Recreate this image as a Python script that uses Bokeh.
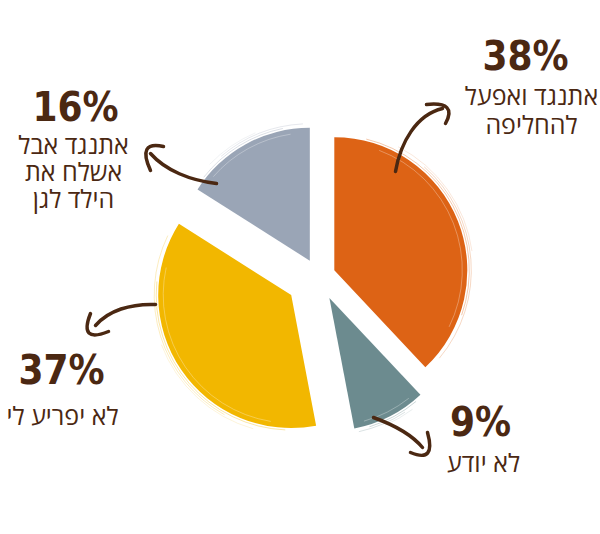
import numpy as np
from bokeh.plotting import figure
from bokeh.models import Range1d
from bokeh.core.properties import value
from bokeh.embed import file_html
from bokeh.resources import INLINE

# ---- data ----
categories = ["אתנגד ואפעל להחליפה", "לא יודע", "לא יפריע לי", "אתנגד אבל אשלח את הילד לגן"]
label_lines = [["אתנגד ואפעל", "להחליפה"], ["לא יודע"], ["לא יפריע לי"], ["אתנגד אבל", "אשלח את", "הילד לגן"]]
percents = [38, 9, 37, 16]

# ---- style / layout ----
colors = ["#DD6315", "#6C8B8F", "#F2B700", "#9AA5B6"]
BROWN = "#4B2812"
W, H = 600, 534
CX, CY = 318, 276          # pie centre (screen px)
R = 133
explode = [17, 24, 33, 18]

def Y(y):  # screen y -> data y
    return H - y

p = figure(width=W, height=H, output_backend="svg", toolbar_location=None,
           x_range=Range1d(0, W), y_range=Range1d(0, H), min_border=0)
p.axis.visible = False
p.grid.visible = False
p.outline_line_color = None
p.background_fill_color = "white"
p.border_fill_color = "white"

rad = np.radians
total = float(sum(percents))
start = 0.0
for pct, col, ex in zip(percents, colors, explode):
    span = pct / total * 360.0
    mid = start + span / 2
    mr = rad(mid)
    ax = CX + ex * np.sin(mr)
    ay = CY - ex * np.cos(mr)
    p.wedge(x=[ax], y=[Y(ay)], radius=R, start_angle=rad(90 - start), end_angle=rad(90 - (start + span)),
            direction="clock", fill_color=col, line_color=None)
    # brush-like texture on the rim
    for dr, a, f0, f1 in [(2, 0.35, 0.1, 0.8), (4, 0.25, 0.3, 0.95), (6, 0.15, 0.2, 0.6), (-5, 0.3, 0.15, 0.85)]:
        p.arc(x=[ax], y=[Y(ay)], radius=R + dr, start_angle=rad(90 - start - span * f0),
              end_angle=rad(90 - start - span * f1), direction="clock",
              line_color=col if dr > 0 else "white", line_alpha=a, line_width=1)
    start += span

# ---- labels ----
pct_pos = [(525, 55), (480, 421), (61, 369), (75, 106)]
line_pos = [[(531, 94), (531, 123)], [(483, 461)], [(118, 414)], [(73, 143), (73, 170), (73, 197)]]
line_align = ["center", "center", "right", "center"]
for i in range(4):
    px, py = pct_pos[i]
    p.text(x=[px], y=[Y(py)], text=[f"{percents[i]}%"], text_align="center", text_baseline="middle",
           text_font=value("DejaVu Sans Condensed"), text_font_style="bold", text_font_size="40px",
           text_color=BROWN)
    for (lx, ly), t in zip(line_pos[i], label_lines[i]):
        p.text(x=[lx], y=[Y(ly)], text=[t], text_align=line_align[i], text_baseline="middle",
               text_font=value("Open Sans"), text_font_size="25px", text_color=BROWN)

# ---- arrows (screen coords) : shaft (start, cp1, cp2, end), head (barb1, tip, barb2) ----
shafts = [
    ((395, 171), (400, 142), (416, 114), (442, 108)),
    ((216, 183), (190, 180), (165, 170), (150, 153)),
    ((155, 304), (130, 303), (108, 310), (95, 325)),
    ((373, 417), (395, 425), (412, 435), (422, 447)),
]
heads = [
    ((426, 104), (450, 105), (445, 123)),
    ((163, 146), (143, 146), (150, 170)),
    ((90, 313), (85, 336), (108, 331)),
    ((427, 432), (430, 456), (410, 452)),
]
for (s, c1, c2, e), (b1, tip, b2) in zip(shafts, heads):
    p.bezier(x0=[s[0]], y0=[Y(s[1])], x1=[e[0]], y1=[Y(e[1])], cx0=[c1[0]], cy0=[Y(c1[1])],
             cx1=[c2[0]], cy1=[Y(c2[1])], line_color=BROWN, line_width=3.5, line_cap="round")
    mx, my = (b1[0] + b2[0]) / 2, (b1[1] + b2[1]) / 2
    cx, cy = tip[0] + 0.5 * (tip[0] - mx), tip[1] + 0.5 * (tip[1] - my)
    p.quadratic(x0=[b1[0]], y0=[Y(b1[1])], x1=[b2[0]], y1=[Y(b2[1])], cx=[cx], cy=[Y(cy)],
                line_color=BROWN, line_width=3.5, line_cap="round")

open("out.html", "w").write(file_html(p, INLINE))
